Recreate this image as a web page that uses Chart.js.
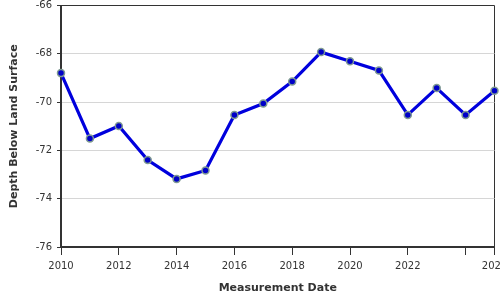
<!DOCTYPE html>
<html>
<head>
<meta charset="utf-8">
<script src="https://cdn.jsdelivr.net/npm/chart.js@4"></script>
<style>
html,body{margin:0;padding:0;background:#fff;overflow:hidden;}
#wrap{width:500px;height:300px;position:relative;}
</style>
</head>
<body>
<div id="wrap"><canvas id="c"></canvas></div>
<script>
const years = [2010,2011,2012,2013,2014,2015,2016,2017,2018,2019,2020,2021,2022,2023,2024,2025];
const depths = [-68.80,-71.51,-70.99,-72.40,-73.18,-72.83,-70.53,-70.06,-69.15,-67.93,-68.31,-68.69,-70.53,-69.42,-70.53,-69.53];
const xTickValues = [2010,2012,2014,2016,2018,2020,2022,2024,2025];
const xHiddenLabels = [2024];
const yMin = -76, yMax = -66, yStep = 2;

const points = years.map((y,i)=>({x:y,y:depths[i]}));

new Chart(document.getElementById('c'), {
  type: 'line',
  data: {
    datasets: [{
      data: points,
      borderColor: '#0000dd',
      borderWidth: 3.2,
      pointRadius: 3.5,
      pointBackgroundColor: '#0000c8',
      pointBorderColor: '#7f9a92',
      pointBorderWidth: 1.5,
      tension: 0,
      clip: false
    }]
  },
  options: {
    responsive: true,
    maintainAspectRatio: false,
    animation: false,
    layout: {padding: {top: 4, right: 0, left: 0, bottom: 0}},
    plugins: {legend: {display: false}, tooltip: {enabled: false}},
    scales: {
      x: {
        type: 'linear',
        min: years[0],
        max: years[years.length-1],
        afterBuildTicks: s => { s.ticks = xTickValues.map(v => ({value: v})); },
        afterFit: s => { s.height = 53; s.paddingLeft = 0; s.paddingRight = 5; },
        ticks: {
          autoSkip: false,
          maxRotation: 0,
          padding: 5,
          color: '#333',
          font: {family: 'DejaVu Sans', size: 10},
          callback: v => xHiddenLabels.includes(v) ? '' : String(v)
        },
        grid: {
          color: c => (c.tick && c.tick.value === years[years.length-1]) ? '#333' : 'rgba(0,0,0,0)',
          tickColor: '#333',
          tickLength: 8,
          lineWidth: 1
        },
        border: {color: '#333', width: 2},
        title: {
          display: true,
          text: 'Measurement Date',
          color: '#333',
          font: {family: 'DejaVu Sans', size: 11, weight: 'bold'},
          padding: {top: 0, bottom: 5}
        }
      },
      y: {
        min: yMin,
        max: yMax,
        afterFit: s => { s.width = 61; s.paddingTop = 0; s.paddingBottom = 0; },
        ticks: {
          stepSize: yStep,
          padding: 5,
          color: '#333',
          font: {family: 'DejaVu Sans', size: 10}
        },
        grid: {
          color: c => (c.tick && c.tick.value === yMax) ? '#333' : '#d6d6d6',
          tickColor: '#333',
          tickLength: 4,
          lineWidth: 1
        },
        border: {color: '#333', width: 2},
        title: {
          display: true,
          text: 'Depth Below Land Surface',
          color: '#333',
          font: {family: 'DejaVu Sans', size: 11, weight: 'bold'},
          padding: {top: 8, bottom: 0}
        }
      }
    }
  }
});
</script>
</body>
</html>
